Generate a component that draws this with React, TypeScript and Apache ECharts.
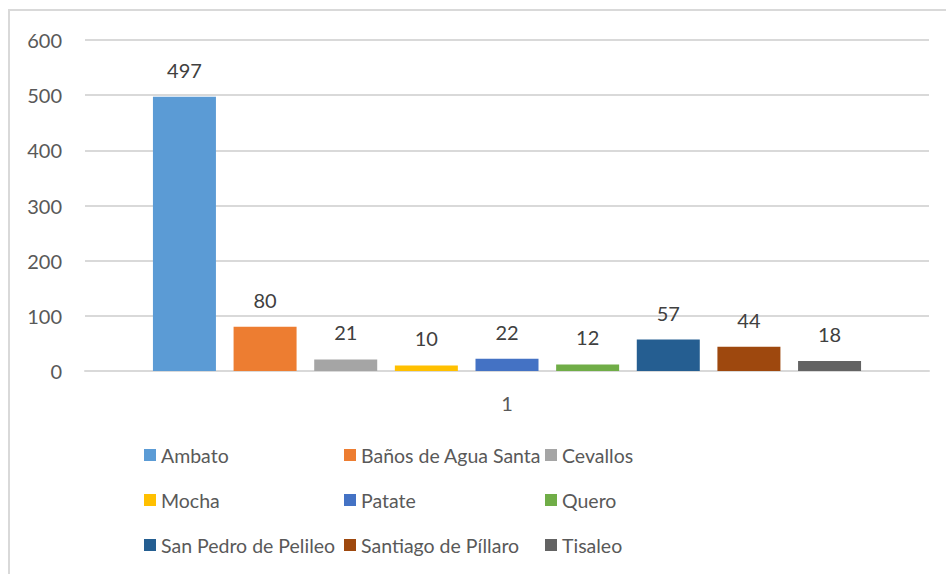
import React, { useEffect, useRef } from "react";
import * as echarts from "echarts";

const categories = ["1"];
const seriesNames = [
  "Ambato",
  "Baños de Agua Santa",
  "Cevallos",
  "Mocha",
  "Patate",
  "Quero",
  "San Pedro de Pelileo",
  "Santiago de Píllaro",
  "Tisaleo",
];
const seriesValues = [497, 80, 21, 10, 22, 12, 57, 44, 18];
const seriesColors = [
  "#5b9bd5",
  "#ed7d31",
  "#a5a5a5",
  "#ffc000",
  "#4472c4",
  "#70ad47",
  "#255e91",
  "#9e480e",
  "#636363",
];
const yTicks = { min: 0, max: 600, interval: 100 };

const FONT = "Lato";

export default function App() {
  const ref = useRef<HTMLDivElement>(null);
  useEffect(() => {
    document.body.style.margin = "0";
    const chart = echarts.init(ref.current!, undefined, { renderer: "svg" });
    const legendCols = [0, 1, 2].map((c) =>
      seriesNames.filter((_, i) => i % 3 === c)
    );
    const legendLefts = [139, 339, 540];
    chart.setOption({
      animation: false,
      backgroundColor: "#ffffff",
      textStyle: { fontFamily: FONT },
      graphic: [
        {
          type: "rect",
          shape: { x: 9, y: 10, width: 1000, height: 700 },
          style: { fill: "none", stroke: "#d9d9d9", lineWidth: 2 },
          silent: true,
        },
      ],
      grid: { left: 85, right: 17, top: 40, bottom: 203, containLabel: false },
      legend: legendCols.map((names, c) => ({
        orient: "vertical",
        left: legendLefts[c],
        top: 438,
        data: names,
        icon: "rect",
        itemWidth: 12,
        itemHeight: 12,
        itemGap: 21,
        textStyle: {
          fontFamily: FONT,
          fontSize: 19.5,
          color: "#595959",
          lineHeight: 24,
        },
      })),
      xAxis: {
        type: "category",
        data: categories,
        axisLine: { lineStyle: { color: "#d9d9d9", width: 2 } },
        axisTick: { show: false },
        axisLabel: {
          margin: 22,
          fontSize: 20,
          color: "#595959",
          fontFamily: FONT,
        },
      },
      yAxis: {
        type: "value",
        min: yTicks.min,
        max: yTicks.max,
        interval: yTicks.interval,
        axisLine: { show: false },
        axisTick: { show: false },
        axisLabel: {
          margin: 23,
          fontSize: 20,
          color: "#595959",
          fontFamily: FONT,
        },
        splitLine: { lineStyle: { color: "#d9d9d9", width: 2 } },
      },
      series: seriesNames.map((name, i) => ({
        name,
        type: "bar",
        data: [seriesValues[i]],
        barWidth: 63,
        barGap: "28%",
        itemStyle: { color: seriesColors[i] },
        label: {
          show: true,
          position: "top",
          distance: 17,
          fontSize: 20,
          color: "#404040",
          fontFamily: FONT,
        },
      })),
    });
    return () => chart.dispose();
  }, []);
  return (
    <div
      ref={ref}
      style={{ position: "absolute", left: 0, top: 0, width: 946, height: 574 }}
    />
  );
}
